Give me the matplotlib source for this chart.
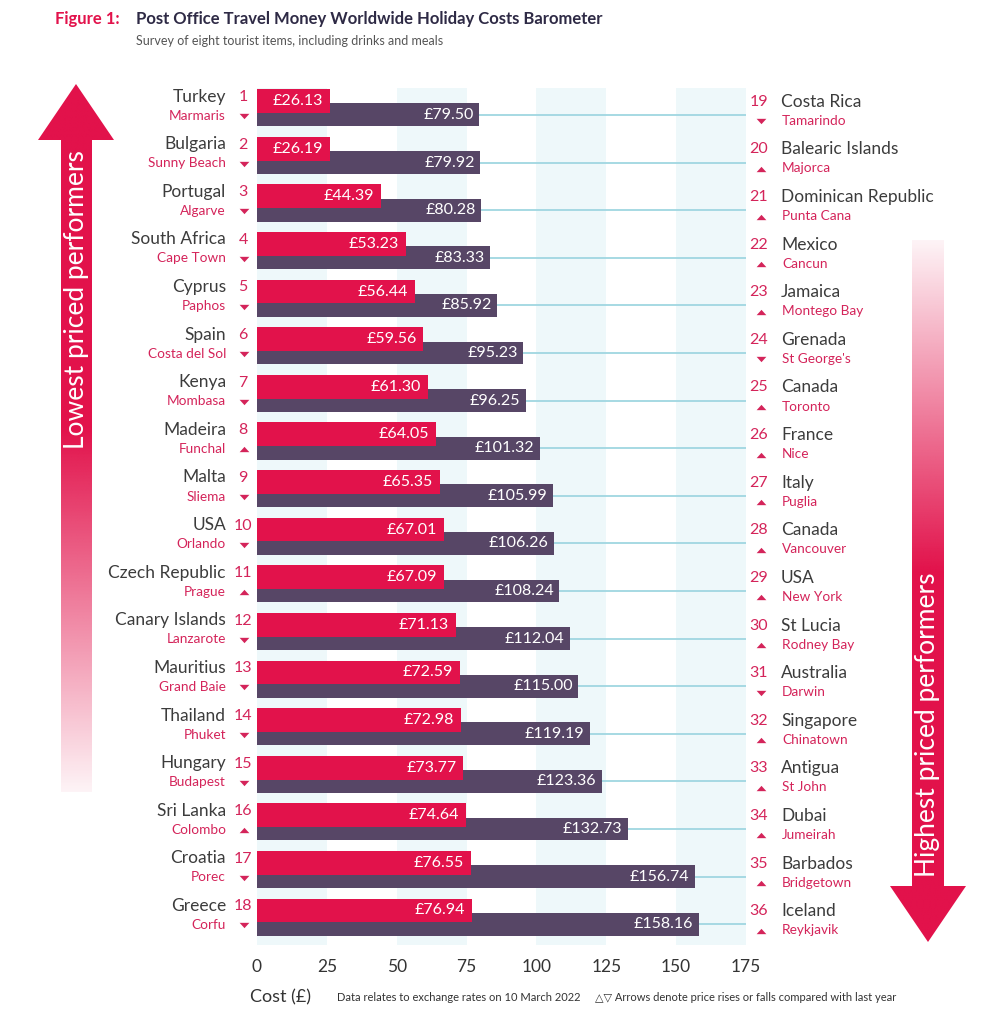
import numpy as np
import matplotlib
matplotlib.use("Agg")
import matplotlib.pyplot as plt
from matplotlib.patches import Polygon
from matplotlib.transforms import blended_transform_factory

plt.rcParams['font.family'] = ['Lato', 'DejaVu Sans']

#%% data
left_country = ['Turkey', 'Bulgaria', 'Portugal', 'South Africa', 'Cyprus', 'Spain', 'Kenya',
                'Madeira', 'Malta', 'USA', 'Czech Republic', 'Canary Islands', 'Mauritius',
                'Thailand', 'Hungary', 'Sri Lanka', 'Croatia', 'Greece']
left_city = ['Marmaris', 'Sunny Beach', 'Algarve', 'Cape Town', 'Paphos', 'Costa del Sol',
             'Mombasa', 'Funchal', 'Sliema', 'Orlando', 'Prague', 'Lanzarote', 'Grand Baie',
             'Phuket', 'Budapest', 'Colombo', 'Porec', 'Corfu']
left_cost = [26.13, 26.19, 44.39, 53.23, 56.44, 59.56, 61.30, 64.05, 65.35, 67.01, 67.09,
             71.13, 72.59, 72.98, 73.77, 74.64, 76.55, 76.94]
left_trend = ['down', 'down', 'down', 'down', 'down', 'down', 'down', 'up', 'down', 'down',
              'up', 'down', 'down', 'down', 'down', 'up', 'down', 'down']

right_country = ['Costa Rica', 'Balearic Islands', 'Dominican Republic', 'Mexico', 'Jamaica',
                 'Grenada', 'Canada', 'France', 'Italy', 'Canada', 'USA', 'St Lucia',
                 'Australia', 'Singapore', 'Antigua', 'Dubai', 'Barbados', 'Iceland']
right_city = ['Tamarindo', 'Majorca', 'Punta Cana', 'Cancun', 'Montego Bay', "St George's",
              'Toronto', 'Nice', 'Puglia', 'Vancouver', 'New York', 'Rodney Bay', 'Darwin',
              'Chinatown', 'St John', 'Jumeirah', 'Bridgetown', 'Reykjavik']
right_cost = [79.50, 79.92, 80.28, 83.33, 85.92, 95.23, 96.25, 101.32, 105.99, 106.26,
              108.24, 112.04, 115.00, 119.19, 123.36, 132.73, 156.74, 158.16]
right_trend = ['down', 'up', 'up', 'up', 'up', 'down', 'up', 'up', 'up', 'up', 'up', 'up',
               'down', 'up', 'up', 'up', 'up', 'up']

xticks = [0, 25, 50, 75, 100, 125, 150, 175]

#%% styles
RED = '#e2124b'
PURPLE = '#574666'
BAND = '#eef8fa'
LINE = '#a6d9e3'
DARK = '#3c3c3c'
PINK = '#d4245a'
W, H = 985, 1013

# flat triangles for the price-change markers
TRI_DOWN = [(-1, 0.55), (1, 0.55), (0, -0.55), (-1, 0.55)]
TRI_UP = [(-1, -0.55), (1, -0.55), (0, 0.55), (-1, -0.55)]

fig = plt.figure(figsize=(W / 100, H / 100), dpi=100)
fig.patch.set_facecolor('white')

def fx(x):
    return x / W

def fy(y):
    return 1 - y / H

ax = fig.add_axes([fx(257), fy(945), 489 / W, 857 / H])
rows = np.arange(len(left_cost))
ax.set_xlim(0, 175)
ax.set_ylim(17.58, -0.42)

for a in range(0, 175, 50):
    ax.axvspan(a, a + 25, color=BAND, lw=0, zorder=0)

ax.hlines(rows + 0.145, right_cost, 175, color=LINE, lw=1.4, zorder=1)
ax.barh(rows + 0.145, right_cost, height=0.48, color=PURPLE, zorder=2)
ax.barh(rows - 0.145, left_cost, height=0.5, color=RED, zorder=3)

for i in rows:
    ax.annotate('£%.2f' % left_cost[i], (left_cost[i], i - 0.145), xytext=(-5, 0),
                textcoords='offset points', ha='right', va='center', color='white',
                fontsize=11.5, zorder=4)
    ax.annotate('£%.2f' % right_cost[i], (right_cost[i], i + 0.145), xytext=(-4, 0),
                textcoords='offset points', ha='right', va='center', color='white',
                fontsize=11.5, zorder=4)

ax.set_xticks(xticks)
ax.set_xticklabels([str(t) for t in xticks], fontsize=12.5, color='#333333')
ax.tick_params(axis='x', length=0, pad=10)
ax.set_yticks([])
for s in ax.spines.values():
    s.set_visible(False)

# labels either side
tr = blended_transform_factory(fig.transFigure, ax.transData)
for i in rows:
    ax.text(fx(226), i - 0.24, left_country[i], transform=tr, ha='right', va='center',
            fontsize=12.5, color=DARK)
    ax.text(fx(226), i + 0.16, left_city[i], transform=tr, ha='right', va='center',
            fontsize=9.8, color=PINK)
    ax.text(fx(243), i - 0.23, str(i + 1), transform=tr, ha='center', va='center',
            fontsize=11.5, color=PINK)
    ax.plot(fx(244), i + 0.17, marker=TRI_DOWN if left_trend[i] == 'down' else TRI_UP,
            color=PINK, ms=7, mew=0, transform=tr, clip_on=False)

    ax.text(fx(768), i - 0.13, str(i + 19), transform=tr, ha='right', va='center',
            fontsize=11.5, color=PINK)
    ax.text(fx(781), i - 0.13, right_country[i], transform=tr, ha='left', va='center',
            fontsize=12.5, color=DARK)
    ax.text(fx(782), i + 0.27, right_city[i], transform=tr, ha='left', va='center',
            fontsize=9.8, color=PINK)
    ax.plot(fx(761), i + 0.28, marker=TRI_DOWN if right_trend[i] == 'down' else TRI_UP,
            color=PINK, ms=7, mew=0, transform=tr, clip_on=False)

#%% gradient arrows
deco = fig.add_axes([0, 0, 1, 1], zorder=-1)
deco.set_xlim(0, W)
deco.set_ylim(H, 0)
deco.axis('off')
rgb = matplotlib.colors.to_rgb(RED)

def gradient_arrow(poly, y0, y1, alphas):
    ys = np.linspace(y0, y1, 400)
    al = np.interp(ys, alphas[0], alphas[1])
    img = np.zeros((400, 1, 4))
    img[:, 0, :3] = rgb
    img[:, 0, 3] = al
    xs = [p[0] for p in poly]
    im = deco.imshow(img, extent=(min(xs), max(xs), y1, y0), aspect='auto',
                     interpolation='bilinear')
    patch = Polygon(poly, closed=True, transform=deco.transData, facecolor='none',
                    edgecolor='none')
    deco.add_patch(patch)
    im.set_clip_path(patch)

gradient_arrow([(61, 140), (38, 140), (76, 84), (114, 140), (92, 140), (92, 792), (61, 792)],
               84, 792, ([84, 430, 792], [1.0, 1.0, 0.05]))
gradient_arrow([(912, 240), (944, 240), (944, 886), (966, 886), (928, 942), (890, 886), (912, 886)],
               240, 942, ([240, 570, 942], [0.05, 1.0, 1.0]))
deco.set_xlim(0, W)
deco.set_ylim(H, 0)

fig.text(fx(77), fy(300), 'Lowest priced performers', rotation=90, ha='center', va='center',
         color='white', fontsize=19)
fig.text(fx(928), fy(725), 'Highest priced performers', rotation=90, ha='center',
         va='center', color='white', fontsize=19)

#%% titles and footer
fig.text(fx(55), fy(19), 'Figure 1:', color=RED, fontsize=12, fontweight='bold',
         va='center', ha='left')
fig.text(fx(136), fy(19), 'Post Office Travel Money Worldwide Holiday Costs Barometer',
         color='#2e2a45', fontsize=12, fontweight='bold', va='center', ha='left')
fig.text(fx(136), fy(41), 'Survey of eight tourist items, including drinks and meals',
         color='#555555', fontsize=9, va='center', ha='left')

fig.text(fx(250), fy(997), 'Cost (£)', color='#333333', fontsize=13, va='center', ha='left')
fig.text(fx(337), fy(997), 'Data relates to exchange rates on 10 March 2022', color='#333333',
         fontsize=8, va='center', ha='left')
fig.text(fx(595), fy(997), '\u25b3\u25bd Arrows denote price rises or falls compared with last year',
         color='#333333', fontsize=8, va='center', ha='left')

fig.savefig('out.png', dpi=100, facecolor='white')
